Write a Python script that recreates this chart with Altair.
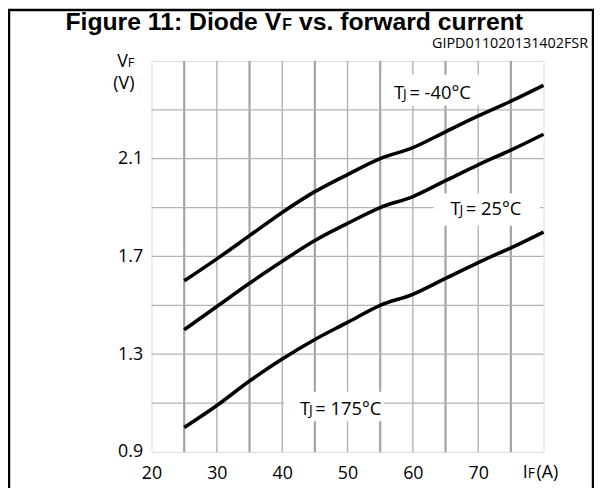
import altair as alt
import pandas as pd

# ---- data ----
current_a = [25, 30, 35, 40, 45, 50, 55, 60, 65, 70, 75, 80]
vf_m40 = [1.60, 1.69, 1.785, 1.88, 1.965, 2.035, 2.10, 2.145, 2.21, 2.275, 2.335, 2.40]
vf_25 = [1.40, 1.495, 1.59, 1.68, 1.765, 1.835, 1.90, 1.945, 2.01, 2.075, 2.135, 2.20]
vf_175 = [1.00, 1.09, 1.19, 1.28, 1.36, 1.43, 1.50, 1.545, 1.61, 1.675, 1.735, 1.80]

x_ticks = [20, 30, 40, 50, 60, 70]
y_ticks = [0.9, 1.3, 1.7, 2.1]
grid_x_major = [25, 35, 45, 55, 65, 75]
grid_x_minor = [30, 40, 50, 60, 70]
grid_y = [1.1, 1.3, 1.5, 1.7, 1.9, 2.1, 2.3]

# white boxes behind curve labels (data units)
box_x1 = [55.2, 63.2, 40.3]
box_x2 = [70.6, 79.4, 55.6]
box_y1 = [2.318, 1.825, 1.025]
box_y2 = [2.443, 1.957, 1.146]

FONT = "Open Sans"
W, H = 396, 395

xs = alt.Scale(domain=[20, 80], nice=False, zero=False)
ys = alt.Scale(domain=[0.9, 2.5], nice=False, zero=False)

rows = []
for name, vals in [("-40", vf_m40), ("25", vf_25), ("175", vf_175)]:
    for a, v in zip(current_a, vals):
        rows.append({"IF": a, "VF": v, "Tj": name})
df = pd.DataFrame(rows)

one = alt.Data(values=[{}])

def rules_x(vals, width, color):
    return alt.Chart(pd.DataFrame({"x": vals})).mark_rule(
        strokeWidth=width, color=color
    ).encode(x=alt.X("x:Q", scale=xs))

def rules_y(vals, width, color):
    return alt.Chart(pd.DataFrame({"y": vals})).mark_rule(
        strokeWidth=width, color=color
    ).encode(y=alt.Y("y:Q", scale=ys))

def txt(t, x, y, size, align="left", bold=False, font=FONT):
    return alt.Chart(one).mark_text(
        text=t, align=align, baseline="alphabetic", fontSize=size,
        font=font, fontWeight="bold" if bold else "normal", color="black"
    ).encode(x=alt.value(x), y=alt.value(y))

frame = alt.Chart(one).mark_rect(
    fill="white", fillOpacity=0, stroke="black", strokeWidth=2.5
).encode(x=alt.value(-144), x2=alt.value(446), y=alt.value(-51.5), y2=alt.value(500))

base = alt.Chart(df).encode(
    x=alt.X("IF:Q", scale=xs,
            axis=alt.Axis(values=x_ticks, title=None, grid=False, ticks=False,
                          domain=False, labelFontSize=18, labelFont=FONT,
                          labelColor="black", labelPadding=13, labelFlush=False)),
    y=alt.Y("VF:Q", scale=ys,
            axis=alt.Axis(values=y_ticks, title=None, grid=False, ticks=False,
                          domain=False, labelFontSize=18, labelFont=FONT,
                          labelColor="black", labelPadding=9, format=".1f")),
)

curves = base.mark_line(color="black", strokeWidth=3.6, strokeCap="butt",
                        interpolate="monotone").encode(detail="Tj:N")

boxes = alt.Chart(pd.DataFrame({"x1": box_x1, "x2": box_x2, "y1": box_y1, "y2": box_y2})).mark_rect(
    fill="white"
).encode(
    x=alt.X("x1:Q", scale=xs), x2="x2:Q",
    y=alt.Y("y1:Q", scale=ys), y2="y2:Q",
)

labels = [
    txt("T", 245, 38, 18.5), txt("J", 254, 38, 14), txt("= -40°C", 260.5, 38, 18.5),
    txt("T", 302, 156, 18.5), txt("J", 311, 156, 14), txt("= 25°C", 317.5, 156, 18.5),
    txt("T", 150, 358, 18.5), txt("J", 159, 358, 14), txt("= 175°C", 165.5, 358, 18.5),
]

titles = [
    txt("Figure 11: Diode V", 131, -31.5, 25, align="right", bold=True, font="Liberation Sans"),
    txt("F", 132, -31.5, 16, bold=True, font="Liberation Sans"),
    txt("vs. forward current", 149, -31.5, 25, bold=True, font="Liberation Sans"),
    txt("GIPD011020131402FSR", 441, -13, 14.5, align="right"),
    txt("V", -24, 6, 18, align="right"), txt("F", -24, 6, 13),
    txt("(V)", -28, 28, 18, align="center"),
    txt("I", 375, 421, 18), txt("F", 380, 421, 14), txt("(A)", 389, 421, 18),
]

chart = alt.layer(
    frame,
    rules_x(grid_x_major, 2.2, "#a3a3a3"),
    rules_x(grid_x_minor, 1.3, "#acacac"),
    rules_y(grid_y, 1.3, "#b3b3b3"),
    boxes,
    curves,
    *labels,
    *titles,
).properties(
    width=W, height=H,
    autosize=alt.AutoSizeParams(type="none"),
    padding={"left": 145, "top": 51, "right": 51, "bottom": 34},
).configure_view(
    stroke="black", strokeWidth=2.5
).configure(background="white")

chart.save("out.html", embed_options={"renderer": "svg", "actions": False})
